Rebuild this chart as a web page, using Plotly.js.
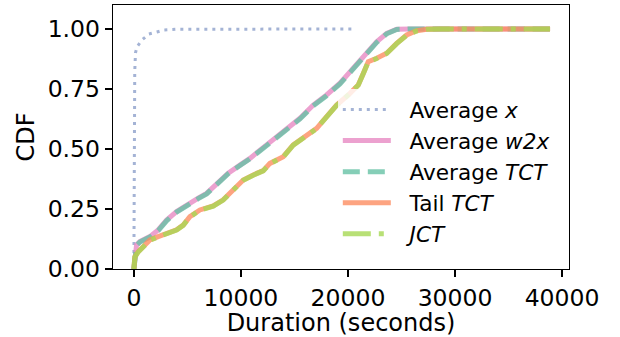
<!DOCTYPE html>
<html>
<head>
<meta charset="utf-8">
<script src="https://cdn.plot.ly/plotly-3.0.1.min.js"></script>
<style>html,body{margin:0;padding:0;background:#fff;}#chart{width:620px;height:337px;}</style>
</head>
<body>
<div id="chart"></div>
<script>
// Average x
const avgX_x = [0, 15, 40, 80, 150, 280, 750, 1400, 2150, 2800, 4000, 10000, 20470];
const avgX_y = [0, 0.30, 0.60, 0.82, 0.90, 0.925, 0.954, 0.979, 0.9875, 0.996, 0.999, 1.0, 1.0];

// Average w2x
const w2x_x = [0, 93, 252, 561, 1495, 2271, 3056, 3991, 4925, 6009, 6794, 7729, 8813, 9907, 10841, 12402, 13336, 14271, 15514, 16757, 18000, 19252, 20187, 21121, 21748, 22682, 23617, 24551, 25794, 38880];
const w2x_y = [0, 0.067, 0.100, 0.114, 0.135, 0.163, 0.204, 0.239, 0.267, 0.295, 0.315, 0.357, 0.399, 0.433, 0.461, 0.517, 0.551, 0.588, 0.628, 0.683, 0.725, 0.774, 0.822, 0.871, 0.899, 0.947, 0.982, 0.999, 1.0, 1.0];

// Average TCT
const tct_x = [0, 93, 252, 561, 1495, 2271, 3056, 3991, 4925, 6009, 6794, 7729, 8813, 9907, 10841, 12402, 13336, 14271, 15514, 16757, 18000, 19252, 20187, 21121, 21748, 22682, 23617, 24551, 25794, 38880];
const tct_y = [0, 0.065, 0.098, 0.112, 0.133, 0.160, 0.201, 0.237, 0.265, 0.293, 0.313, 0.355, 0.397, 0.431, 0.459, 0.514, 0.548, 0.585, 0.625, 0.680, 0.722, 0.771, 0.819, 0.868, 0.896, 0.944, 0.980, 0.998, 1.0, 1.0];

// Tail TCT
const tail_x = [0, 93, 402, 869, 1495, 2271, 3056, 3991, 4607, 5234, 6168, 7411, 8346, 9280, 10215, 11150, 12084, 12710, 13953, 14888, 16140, 17075, 18009, 18944, 20187, 20963, 21430, 21897, 22682, 23617, 24551, 25486, 26421, 27355, 28600, 38880];
const tail_y = [0, 0.051, 0.072, 0.093, 0.121, 0.135, 0.146, 0.163, 0.183, 0.218, 0.246, 0.263, 0.288, 0.329, 0.371, 0.392, 0.410, 0.440, 0.468, 0.517, 0.558, 0.586, 0.635, 0.683, 0.732, 0.767, 0.815, 0.864, 0.878, 0.899, 0.940, 0.975, 0.993, 0.999, 1.0, 1.0];

// JCT
const jct_x = [0, 93, 402, 869, 1495, 2271, 3056, 3991, 4607, 5234, 6168, 7411, 8346, 9280, 10215, 11150, 12084, 12710, 13953, 14888, 16140, 17075, 18009, 18944, 20187, 20963, 21430, 21897, 22682, 23617, 24551, 25486, 26421, 27355, 28600, 38880];
const jct_y = [0, 0.050, 0.071, 0.092, 0.120, 0.134, 0.145, 0.162, 0.182, 0.217, 0.245, 0.262, 0.287, 0.328, 0.370, 0.391, 0.409, 0.439, 0.467, 0.516, 0.557, 0.585, 0.634, 0.682, 0.731, 0.766, 0.814, 0.863, 0.877, 0.898, 0.939, 0.974, 0.992, 0.999, 1.0, 1.0];

const names = ["Average <i>x</i>", "Average <i>w2x</i>", "Average <i>TCT</i>", "Tail <i>TCT</i>", "<i>JCT</i>"];
const yTicks = [0, 0.25, 0.5, 0.75, 1.0];
const xTicks = [0, 10000, 20000, 30000, 40000];

const F = "DejaVu Sans, sans-serif";
const pad = "\u00a0\u00a0";
const traces = [
  {x: avgX_x, y: avgX_y, name: pad + names[0], line: {color: "#8da0cb", width: 3, dash: "3px,5px"}},
  {x: w2x_x, y: w2x_y, name: pad + names[1], line: {color: "#e78ac3", width: 5}},
  {x: tct_x, y: tct_y, name: pad + names[2], line: {color: "#66c2a5", width: 5, dash: "17px,8px"}},
  {x: tail_x, y: tail_y, name: pad + names[3], line: {color: "#fc8d62", width: 5}},
  {x: jct_x, y: jct_y, name: pad + names[4], line: {color: "#a6d854", width: 5, dash: "28px,8px,5px,8px"}}
].map((t, i) => Object.assign(t, {type: "scatter", mode: "lines", opacity: 0.8, legendgroup: "g" + i}));

const layout = {
  width: 620, height: 337,
  margin: {l: 113, r: 51, t: 5, b: 68},
  paper_bgcolor: "#fff", plot_bgcolor: "#fff",
  font: {family: F, size: 23.5, color: "#000"},
  showlegend: true,
  legend: {
    x: 0.493, y: 0.682, xanchor: "left", yanchor: "top",
    bgcolor: "rgba(255,255,255,0.8)", borderwidth: 0,
    font: {family: F, size: 21.6, color: "#000"},
    tracegroupgap: 0, itemwidth: 48
  },
  xaxis: {
    range: [-1950, 40650], tickvals: xTicks, ticktext: xTicks.map(String),
    ticks: "outside", ticklen: 7, tickwidth: 1.3, tickcolor: "#000",
    showline: true, linecolor: "#000", linewidth: 1.3, mirror: true,
    showgrid: false, zeroline: false,
    tickfont: {family: F, size: 23.5},
    title: {text: "Duration (seconds)", font: {family: F, size: 24}, standoff: 4}
  },
  yaxis: {
    range: [0, 1.1], tickvals: yTicks, tickformat: ".2f",
    ticks: "outside", ticklen: 7, tickwidth: 1.3, tickcolor: "#000",
    showline: true, linecolor: "#000", linewidth: 1.3, mirror: true,
    showgrid: false, zeroline: false,
    tickfont: {family: F, size: 23.5},
    title: {text: "CDF", font: {family: F, size: 24}, standoff: 6}
  }
};

Plotly.newPlot("chart", traces, layout, {staticPlot: true, displayModeBar: false});
</script>
</body>
</html>
